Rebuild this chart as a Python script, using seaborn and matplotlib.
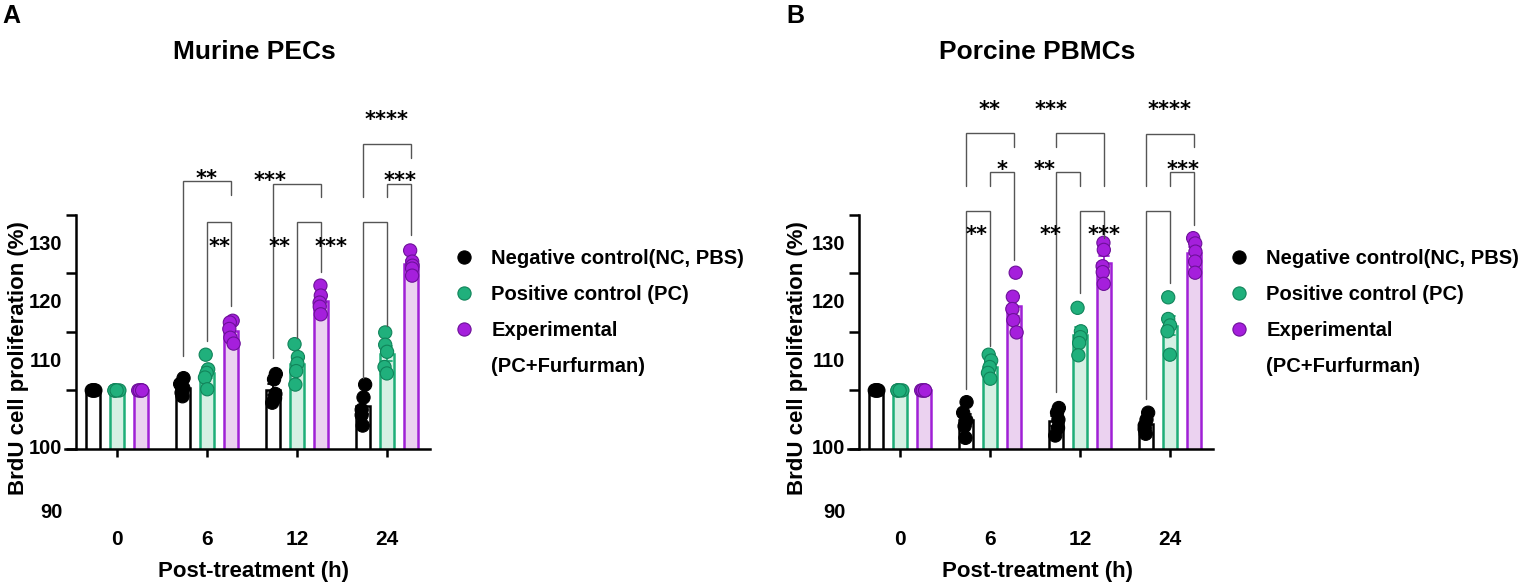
import numpy as np
import pandas as pd
import matplotlib
matplotlib.use("Agg")
import matplotlib.pyplot as plt
import seaborn as sns
from matplotlib.lines import Line2D
from matplotlib.colors import to_rgba

# ---------------- data ----------------
times = ["0", "6", "12", "24"]
groups = ["NC", "PC", "EXP"]
legend_labels = ["Negative control(NC, PBS)", "Positive control (PC)",
                 "Experimental", "(PC+Furfurman)"]
panel_titles = ["Murine PECs", "Porcine PBMCs"]
panel_letters = ["A", "B"]
x_label = "Post-treatment (h)"
y_label = "BrdU cell proliferation (%)"

murine_nc = [[105, 105, 105, 105, 105], [107.1, 106.1, 105.4, 104.6, 104.0],
             [107.8, 106.9, 104.4, 103.7, 102.9], [106.0, 103.8, 101.7, 100.8, 99.0]]
murine_pc = [[105, 105, 105, 105, 105], [111.1, 108.6, 108.0, 107.2, 105.2],
             [112.9, 110.7, 109.6, 108.3, 106.0], [114.9, 112.8, 111.6, 109.0, 107.9]]
murine_exp = [[105, 105, 105, 105, 105], [116.9, 116.6, 115.5, 114.0, 113.0],
              [122.9, 121.2, 120.0, 119.3, 118.0], [128.9, 127.0, 126.3, 125.8, 124.6]]

porcine_nc = [[105, 105, 105, 105, 105], [103.0, 101.2, 99.9, 98.9, 96.9],
              [102.0, 101.2, 100.0, 98.6, 97.3], [101.2, 100.0, 99.0, 98.4, 97.6]]
porcine_pc = [[105, 105, 105, 105, 105], [111.1, 110.1, 109.0, 108.0, 107.0],
              [119.1, 115.1, 114.1, 113.1, 111.0], [120.9, 117.2, 116.1, 115.1, 111.1]]
porcine_exp = [[105, 105, 105, 105, 105], [125.1, 121.0, 118.9, 117.0, 114.9],
               [130.2, 129.0, 126.2, 125.2, 123.2], [131.0, 130.1, 128.7, 127.0, 125.1]]

y_tick_labels = ["130", "120", "110", "100", "90"]
y_tick_label_pos = [130, 120, 110, 95, 84.2]
y_tick_marks = [95, 105, 115, 125, 135]

# significance brackets: (time index, group a, group b, top, leg end a, leg end b)
murine_brackets = [(1, "NC", "EXP", 140.7, 110.8, 138.4),
                   (1, "PC", "EXP", 133.7, 113.4, 119.4),
                   (2, "NC", "EXP", 140.3, 110.6, 138.1),
                   (2, "PC", "EXP", 133.7, 114.0, 125.3),
                   (3, "NC", "EXP", 147.0, 138.1, 144.7),
                   (3, "PC", "EXP", 140.3, 138.1, 131.6),
                   (3, "NC", "PC", 133.7, 107.2, 116.0)]
murine_stars = [("**", 1.0, 141.7), ("**", 1.144, 130.2), ("***", 1.70, 141.4),
                ("**", 1.81, 130.2), ("***", 2.38, 130.2), ("****", 3.0, 151.75),
                ("***", 3.144, 141.4)]

porcine_brackets = [(1, "NC", "EXP", 148.9, 139.9, 146.6),
                    (1, "PC", "EXP", 142.3, 139.9, 127.3),
                    (1, "NC", "PC", 135.7, 105.2, 112.6),
                    (2, "NC", "EXP", 148.9, 146.6, 139.9),
                    (2, "NC", "PC", 142.3, 104.7, 139.9),
                    (2, "PC", "EXP", 135.7, 121.7, 131.0),
                    (3, "NC", "EXP", 148.8, 139.9, 146.6),
                    (3, "PC", "EXP", 142.3, 139.9, 133.3),
                    (3, "NC", "PC", 135.7, 103.5, 123.4)]
porcine_stars = [("**", 1.0, 153.6), ("*", 1.133, 143.2), ("**", 0.856, 132.2),
                 ("***", 1.678, 153.6), ("**", 1.611, 143.2), ("**", 1.678, 132.2),
                 ("***", 2.263, 132.2), ("****", 3.0, 153.6), ("***", 3.144, 143.2)]

# ---------------- style ----------------
fill_colors = {"NC": "#ffffff", "PC": "#d2f4e4", "EXP": "#efcdf5"}
edge_colors = {"NC": "#000000", "PC": "#1eae78", "EXP": "#a020d6"}
dot_colors = {"NC": "#000000", "PC": "#20b07c", "EXP": "#a51fdc"}
dot_edges = {"NC": "#000000", "PC": "#11845a", "EXP": "#6d1099"}
line_grey = "#555555"

sns.set_style("ticks")
plt.rcParams["font.family"] = ["Liberation Sans", "DejaVu Sans"]
plt.rcParams["font.weight"] = "bold"
for k in ["text.color", "axes.labelcolor", "xtick.color", "ytick.color", "axes.edgecolor"]:
    plt.rcParams[k] = "black"

W, H = 1535, 588
fig = plt.figure(figsize=(W / 100, H / 100), dpi=100)
fig.patch.set_facecolor("white")

YMIN, YMAX = 95, 155
px_top = 449 - (YMAX - YMIN) * 5.857
XMIN, XMAX = -0.578, 3.478
SPINE_X = -0.455
HUE_OFF = {g: (i - 1) * 0.8 / 3 for i, g in enumerate(groups)}


def build_df(nc, pc, exp):
    rows = []
    for g, vals in zip(groups, [nc, pc, exp]):
        for t, reps in zip(times, vals):
            for v in reps:
                rows.append({"time": t, "group": g, "value": v})
    return pd.DataFrame(rows)


def draw_panel(ax, nc, pc, exp, brackets, stars):
    df = build_df(nc, pc, exp)
    n_lines = len(ax.lines)
    sns.barplot(data=df, x="time", y="value", hue="group", order=times,
                hue_order=groups, palette=[fill_colors[g] for g in groups],
                errorbar="se", capsize=0.35, err_kws={"linewidth": 1.3},
                width=0.8, gap=0.415, linewidth=1.8, edgecolor="black",
                legend=False, ax=ax)
    for cont, g in zip(ax.containers, groups):
        for p in cont:
            p.set_edgecolor(edge_colors[g])
    for ln in ax.lines[n_lines:]:
        xs = np.asarray(ln.get_xdata(), dtype=float)
        xm = np.nanmean(xs)
        off = xm - np.round(xm)
        idx = int(np.clip(np.round(off / (0.8 / 3)) + 1, 0, 2))
        ln.set_color(edge_colors[groups[idx]])
    n_coll = len(ax.collections)
    np.random.seed(3)
    sns.stripplot(data=df, x="time", y="value", hue="group", order=times,
                  hue_order=groups, palette=[dot_colors[g] for g in groups],
                  dodge=True, jitter=0.1, size=9.5, linewidth=0.8,
                  edgecolor="black", legend=False, zorder=3, ax=ax)
    for coll in ax.collections[n_coll:]:
        fc = coll.get_facecolor()
        if len(fc) == 0:
            continue
        for g in groups:
            if np.allclose(fc[0][:3], to_rgba(dot_colors[g])[:3], atol=0.02):
                coll.set_edgecolor(dot_edges[g])

    for ti, ga, gb, top, ya, yb in brackets:
        xa = ti + HUE_OFF[ga]
        xb = ti + HUE_OFF[gb]
        ax.plot([xa, xa, xb, xb], [ya, top, top, yb], color=line_grey,
                lw=1.0, clip_on=False, zorder=4, solid_joinstyle="miter")
    for s, x, y in stars:
        ax.annotate(s, xy=(x, y), xytext=(0, -7.0), textcoords="offset points",
                    ha="center", va="baseline", fontsize=15, fontweight="bold",
                    family="DejaVu Sans", annotation_clip=False, zorder=5)

    ax.set_xlim(XMIN, XMAX)
    ax.set_ylim(YMIN, YMAX)
    ax.spines["top"].set_visible(False)
    ax.spines["right"].set_visible(False)
    ax.spines["left"].set_position(("data", SPINE_X))
    ax.spines["left"].set_bounds(95, 135)
    ax.spines["left"].set_linewidth(1.8)
    ax.spines["bottom"].set_linewidth(1.8)
    ax.set_yticks(y_tick_marks)
    ax.set_yticklabels([])
    ax.tick_params(axis="y", length=7.5, width=1.8)
    ax.set_xticks(range(len(times)))
    ax.set_xticklabels(times, fontsize=15, fontweight="bold")
    ax.tick_params(axis="x", length=6, width=1.8, pad=52)
    ax.set_xlabel("")
    ax.set_ylabel("")
    ax.set_facecolor("none")
    for lab, yv in zip(y_tick_labels, y_tick_label_pos):
        ax.annotate(lab, xy=(SPINE_X, yv), xytext=(-10, 0), textcoords="offset points",
                    ha="right", va="center", fontsize=14.5, fontweight="bold",
                    annotation_clip=False)


panels = [
    dict(left=65, title_x=254, ylab_x=19, xlab_x=253, letter_x=2, leg_x=454,
         data=(murine_nc, murine_pc, murine_exp), br=murine_brackets, st=murine_stars),
    dict(left=848, title_x=1037, ylab_x=797, xlab_x=1037, letter_x=786, leg_x=1229,
         data=(porcine_nc, porcine_pc, porcine_exp), br=porcine_brackets, st=porcine_stars),
]

for i, p in enumerate(panels):
    ax = fig.add_axes([p["left"] / W, 1 - 449 / H, 365 / W, (449 - px_top) / H])
    draw_panel(ax, *p["data"], p["br"], p["st"])
    fig.text(p["title_x"] / W, 1 - 52 / H, panel_titles[i], ha="center", va="center",
             fontsize=19, fontweight="bold")
    fig.text(p["letter_x"] / W, 1 - 16 / H, panel_letters[i], ha="left", va="center",
             fontsize=18, fontweight="bold")
    fig.text(p["ylab_x"] / W, 1 - 358 / H, y_label, rotation=90, ha="center",
             va="center", fontsize=16, fontweight="bold")
    fig.text(p["xlab_x"] / W, 1 - 572 / H, x_label, ha="center", va="center",
             fontsize=16, fontweight="bold")
    handles = [Line2D([0], [0], marker="o", linestyle="none", markersize=9.5,
                      markerfacecolor=dot_colors[g], markeredgecolor=dot_edges[g],
                      markeredgewidth=0.8) for g in groups]
    handles.append(Line2D([], [], linestyle="none"))
    fig.legend(handles, legend_labels, loc="upper left",
               bbox_to_anchor=(p["leg_x"] / W, 1 - 249 / H), frameon=False,
               prop={"size": 14.5, "weight": "bold"}, handlelength=1.0,
               handletextpad=0.85, labelspacing=0.84, borderpad=0,
               borderaxespad=0)

fig.savefig("out.png", dpi=100, facecolor="white")
